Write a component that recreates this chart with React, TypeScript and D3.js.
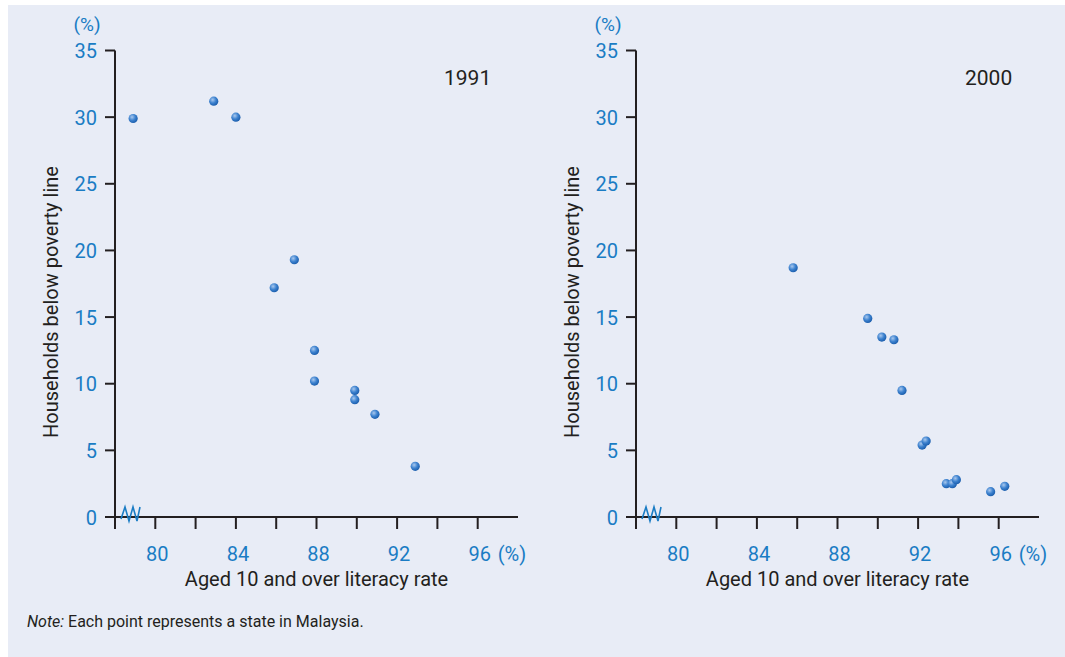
import React from "react";
import * as d3 from "d3";

// literacy rate (%) vs households below poverty line (%), one point per state
const lit1991 = [78.9, 82.9, 84.0, 86.9, 85.9, 87.9, 87.9, 89.9, 89.9, 90.9, 92.9];
const pov1991 = [29.9, 31.2, 30.0, 19.3, 17.2, 12.5, 10.2, 9.5, 8.8, 7.7, 3.8];

const lit2000 = [85.8, 89.5, 90.2, 90.8, 91.2, 92.2, 92.4, 93.4, 93.7, 93.9, 95.6, 96.3];
const pov2000 = [18.7, 14.9, 13.5, 13.3, 9.5, 5.4, 5.7, 2.5, 2.5, 2.8, 1.9, 2.3];

const xTicks = [80, 82, 84, 86, 88, 90, 92, 94, 96];
const xTickLabels = [80, 84, 88, 92, 96];
const yTicks = [0, 5, 10, 15, 20, 25, 30, 35];

const panels = [
  { year: "1991", lit: lit1991, pov: pov1991, left: 115 },
  { year: "2000", lit: lit2000, pov: pov2000, left: 636 },
];

const W = 1065;
const H = 657;
const blue = "#1a7cc4";
const ink = "#231f20";
const font = "'Roboto', sans-serif";

const Panel = ({ p }) => {
  const x = d3.scaleLinear().domain([78, 98]).range([p.left, p.left + 403]);
  const y = d3.scaleLinear().domain([0, 35]).range([517, 50.5]);
  const y0 = y(0);
  const zig = d3.line()([
    [x(78) + 6, y0 + 2],
    [x(78) + 10, y0 - 10],
    [x(78) + 14, y0 + 4],
    [x(78) + 18, y0 - 10],
    [x(78) + 22, y0 + 4],
    [x(78) + 25, y0 - 10],
  ]);
  return (
    <g>
      {/* y axis */}
      <line x1={x(78)} x2={x(78)} y1={y(35)} y2={y0 + 12} stroke={ink} strokeWidth={2} />
      {yTicks.map((t) => (
        <g key={t}>
          <line x1={x(78) - 10} x2={x(78)} y1={y(t)} y2={y(t)} stroke={ink} strokeWidth={2} />
          <text x={x(78) - 18} y={y(t) + 7.5} textAnchor="end" fill={blue} fontSize={20} fontFamily={font}>
            {t}
          </text>
        </g>
      ))}
      <text x={x(78) - 28} y={31} textAnchor="middle" fill={blue} fontSize={19} fontFamily={font}>
        (%)
      </text>
      {/* x axis */}
      <line x1={x(78) - 10} x2={x(98)} y1={y0} y2={y0} stroke={ink} strokeWidth={2} />
      {xTicks.map((t) => (
        <line key={t} x1={x(t)} x2={x(t)} y1={y0} y2={y0 + 12} stroke={ink} strokeWidth={2} />
      ))}
      {xTickLabels.map((t) => (
        <text key={t} x={x(t) + 2} y={561} textAnchor="middle" fill={blue} fontSize={20} fontFamily={font}>
          {t}
        </text>
      ))}
      <text x={x(97.7)} y={561} textAnchor="middle" fill={blue} fontSize={20} fontFamily={font}>
        (%)
      </text>
      <path d={zig} fill="none" stroke={blue} strokeWidth={1.6} />
      <text x={x(88)} y={586} textAnchor="middle" fill={ink} fontSize={20} fontFamily={font}>
        Aged 10 and over literacy rate
      </text>
      <text
        transform={`translate(${x(78) - 57},302) rotate(-90)`}
        textAnchor="middle"
        fill={ink}
        fontSize={20}
        fontFamily={font}
      >
        Households below poverty line
      </text>
      <text x={x(95.5)} y={85} textAnchor="middle" fill={ink} fontSize={21} fontFamily={font}>
        {p.year}
      </text>
      {p.lit.map((v, i) => (
        <circle key={i} cx={x(v)} cy={y(p.pov[i])} r={4.6} fill="url(#dot)" />
      ))}
    </g>
  );
};

export default function App() {
  return (
    <svg width={W} height={H} style={{ position: "absolute", left: 0, top: 0 }}>
      <defs>
        <radialGradient id="dot" cx="0.38" cy="0.35" r="0.65">
          <stop offset="0" stopColor="#a9c8ee" />
          <stop offset="0.55" stopColor="#3d82cf" />
          <stop offset="1" stopColor="#1c5fae" />
        </radialGradient>
      </defs>
      <rect x={0} y={0} width={W} height={H} fill="#ffffff" />
      <rect x={8} y={5} width={W - 8} height={H - 5} fill="#e8ecf6" />
      {panels.map((p) => (
        <Panel key={p.year} p={p} />
      ))}
      <text x={27} y={627} fill={ink} fontSize={16} fontFamily={font}>
        <tspan fontStyle="italic">Note:</tspan> Each point represents a state in Malaysia.
      </text>
    </svg>
  );
}
